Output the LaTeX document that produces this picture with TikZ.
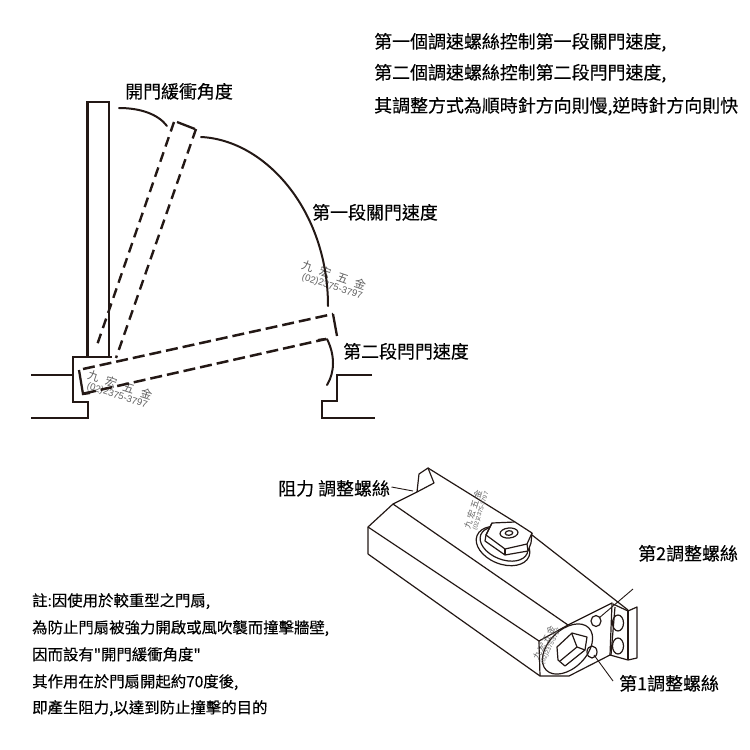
\documentclass[tikz,border=0pt]{standalone}
\usepackage{fontspec}
\setmainfont[FakeBold=0.25]{Noto Sans CJK TC}
\newfontfamily\plainquote[FakeBold=0.25]{Noto Sans CJK TC}
\newfontfamily\wmfont{Noto Sans CJK TC}
\newfontfamily\phonefont{Liberation Sans}
\definecolor{ink}{HTML}{231815}
\definecolor{wm}{HTML}{606060}
\tikzset{
  wall/.style={draw=ink,line width=2.3pt,line join=miter},
  doorline/.style={draw=ink,line width=2.3pt},
  doordash/.style={draw=ink,line width=2.4pt,dash pattern=on 10pt off 6pt},
  doordashlong/.style={draw=ink,line width=2.5pt,dash pattern=on 12pt off 5pt},
  swing/.style={draw=ink,line width=2pt,line cap=round},
  body/.style={draw=ink,line width=1.2pt,line join=round},
  leader/.style={draw=ink,line width=.9pt},
  lab/.style={inner sep=0pt,anchor=west,yshift=-2.5pt,text=black,font=\fontsize{17.95}{18}\selectfont,text height=.86em,text depth=.12em},
  notetxt/.style={inner sep=0pt,anchor=west,yshift=-2.5pt,text=black,font=\fontsize{15.4}{16}\selectfont,text height=.86em,text depth=.12em},
  wmcn/.style={inner sep=0pt,text=wm,font=\wmfont\fontsize{11.5}{12}\selectfont},
  wmtel/.style={inner sep=0pt,text=wm,font=\phonefont\fontsize{9.6}{10}\selectfont},
  wmcnsmall/.style={inner sep=0pt,text=wm,font=\wmfont\fontsize{8.5}{9}\selectfont},
  wmtelsmall/.style={inner sep=0pt,text=wm,font=\phonefont\fontsize{6}{7}\selectfont},
}
\newcommand{\wmname}[1]{九\hspace{#1}宏\hspace{#1}五\hspace{#1}金}
\begin{document}
\begin{tikzpicture}[x=1pt,y=1pt]
\useasboundingbox (0,-750) rectangle (750,0);
% watermarks below the drawing
\node[wmcn,rotate=-19] (wa) at (334,-275) {\wmname{7pt}};
\node[wmtel,rotate=-18] (wb) at (332,-287) {(02)2375-3797};
\node[wmcn,rotate=-18] (wc) at (120,-385) {\wmname{7pt}};
\node[wmtel,rotate=-18] (wd) at (117,-396) {(02)2375-3797};
% door and frame
\draw[doorline] (87.5,-357) |- (109,-102) -- (109,-357);
\draw[wall] (112,-357) -- (73,-357) -- (73,-402) -- (88,-402) -- (88,-418) -- (31,-418);
\draw[doorline,line width=1.8pt] (31,-375) -- (72,-375);
\draw[wall] (372,-375) -- (337,-375) -- (337,-401) -- (322,-401) -- (322,-418) -- (375,-418);
% dashed door positions
\draw[doordash] (174,-122) -- (96,-348);
\draw[doordash] (196,-129) -- (116,-358);
\draw[doorline] (177,-122) -- (195,-129);
\draw[doordashlong] (83,-369) -- (333,-314);
\draw[doordashlong] (84,-393.5) -- (326,-339);
\draw[doorline] (79,-370) -- (83,-394) -- (90,-393);
\draw[doorline] (333,-314) -- (337,-336);
\draw[doorline] (318,-340) -- (326,-339);
% swing arcs
\draw[swing] (119,-108) .. controls (140,-108) and (158,-114) .. (167,-126);
\draw[swing] (201,-137) .. controls (265,-140) and (328,-210) .. (328,-306);
\draw[swing] (327,-339) .. controls (335,-355) and (335,-372) .. (327,-385);
% closer body
\draw[body] (428,-468) -- (515,-522);
\draw[body] (532,-535) -- (628,-610);
\draw[body] (417,-492) -- (419,-474) -- (428,-468) -- (434,-483) -- (417,-492) -- (393,-504) -- (368,-527) -- (368,-554);
\draw[body] (393,-504) -- (568,-625);
\draw[body] (368,-527) -- (539,-641);
\draw[body] (368,-554) -- (540,-676);
\draw[body] (539,-641) -- (540,-676) -- (569,-676) -- (610,-655) -- (612,-603) -- (568,-625) -- cycle;
\draw[body] (613,-604) -- (628,-611) -- (637,-607) -- (637,-658) -- (628,-660) -- (610,-655);
\draw[body] (628,-611) -- (628,-660);
\draw[body] (615,-607) -- (611,-655);
\draw[body] (618,-623) ellipse [x radius=5.5,y radius=8];
\draw[body] (618,-646) ellipse [x radius=5.5,y radius=8];
\draw[body] (596,-621) ellipse [x radius=5,y radius=5.5];
\draw[body] (592,-652) ellipse [x radius=5,y radius=6];
\draw[body,rotate around={45:(567.5,-649)}] (567.5,-649) ellipse [x radius=30,y radius=19];
\draw[body] (572,-633) -- (587,-637) -- (585,-650) -- (565,-666) -- (558,-660) -- (557,-647) -- cycle;
\draw[body] (572,-634) -- (577,-647) -- (585,-650);
\draw[body] (577,-647) -- (560,-661);
% bolt
\draw[body,fill=white,rotate around={-22:(503,-546)}] (503,-546) ellipse [x radius=28,y radius=18];
\draw[body,fill=white,rotate around={-22:(504,-544)}] (504,-544) ellipse [x radius=25,y radius=15.5];
\draw[body,fill=white] (492,-523) -- (515,-522) -- (532,-533) -- (531,-543) -- (528,-551) -- (505,-555) -- (485,-541) -- (486,-535) -- cycle;
\draw[body] (492,-523) -- (486,-535) -- (505,-549) -- (527,-544) -- (532,-533);
\draw[body] (505,-549) -- (505,-555);
\draw[body] (527,-544) -- (528,-551);
\draw[body,rotate around={5:(509,-533)}] (509,-533) ellipse [x radius=9,y radius=5];
\draw[body,rotate around={5:(509,-533)}] (509,-533) ellipse [x radius=3.8,y radius=2.3];
% watermarks on the closer
\node[wmcnsmall,rotate=72] (we) at (473,-509) {\wmname{2pt}};
\node[wmtelsmall,rotate=72] (wf) at (481,-511) {(02)2375-3797};
\node[wmcnsmall,rotate=62] (wg) at (544,-643) {\wmname{1pt}};
\node[wmtelsmall,rotate=64] (wh) at (551,-646) {(02)2375-3797};
% labels
\node[lab] (tA) at (374,-42) {第一個調速螺絲控制第一段關門速度,};
\node[lab] (tB) at (374,-73) {第二個調速螺絲控制第二段閂門速度,};
\node[lab] (tC) at (374,-106) {其調整方式為順時針方向則慢,逆時針方向則快};
\node[lab] (lA) at (125,-92) {開門緩衝角度};
\node[lab] (lB) at (312,-213) {第一段關門速度};
\node[lab] (lC) at (343,-352) {第二段閂門速度};
\node[lab] (lD) at (278,-489) {阻力 調整螺絲};
\node[lab] (lE) at (638,-554) {第2調整螺絲};
\node[lab] (lF) at (619,-684) {第1調整螺絲};
\node[notetxt] (n1) at (32,-600) {註:因使用於較重型之門扇,};
\node[notetxt] (n2) at (32,-627) {為防止門扇被強力開啟或風吹襲而撞擊牆壁,};
\node[notetxt] (n3) at (32,-654) {因而設有{\plainquote "}開門緩衝角度{\plainquote "}};
\node[notetxt] (n4) at (32,-681) {其作用在於門扇開起約70度後,};
\node[notetxt] (n5) at (32,-707) {即產生阻力,以達到防止撞擊的目的};
% leaders
\coordinate (pD) at (413,-491);
\coordinate (pE) at (599,-618);
\coordinate (pF) at (594,-655);
\coordinate (sD) at (391.5,-487);
\coordinate (sE) at (633,-589);
\coordinate (sF) at (613,-681);
\draw[leader] (sD) -- (pD);
\draw[leader] (sE) -- (pE);
\draw[leader] (sF) -- (pF);
\end{tikzpicture}
\end{document}
